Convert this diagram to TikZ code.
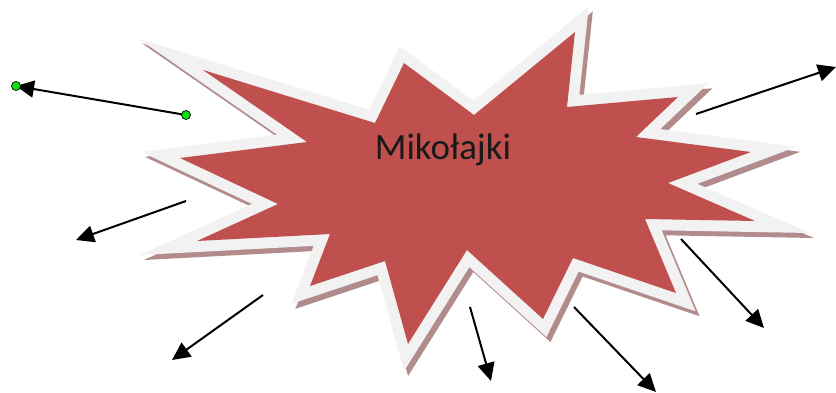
\documentclass[tikz,border=0pt]{standalone}
\usepackage{fontspec}
\setmainfont{Carlito}
\usetikzlibrary{arrows.meta}
\definecolor{starred}{HTML}{C0504D}
\definecolor{stargray}{HTML}{F2F2F2}
\definecolor{starshadow}{RGB}{178,140,140}
\definecolor{handlegreen}{HTML}{10E010}
\begin{document}
\begin{tikzpicture}[x=1pt,y=-1pt,
  arr/.style={line width=2pt, -{Triangle[length=18pt,width=17pt]}},
  handle/.style={circle, fill=handlegreen, draw=black, line width=0.7pt, inner sep=0pt, minimum size=9pt},
  starband/.style={line width=22pt, line join=miter, miter limit=10}]
\useasboundingbox (0,0) rectangle (836,392);
\def\mystarpath{(203,70) -- (375,123) -- (404,63) -- (474,115) -- (575,32) -- (567,107) -- (678,97) -- (636,137) -- (751,152) -- (668,183) -- (755,221) -- (645,219) -- (676,293) -- (573,258) -- (543,319) -- (467,250) -- (408,344) -- (385,261) -- (310,286) -- (330,234) -- (197,241) -- (278,204) -- (180,158) -- (307,142) -- cycle}
% shadow
\begin{scope}[shift={(4,5)}]
  \filldraw[starshadow, starband] \mystarpath;
\end{scope}
% light band
\draw[stargray, starband] \mystarpath;
% red body
\fill[starred] \mystarpath;
\node[font=\fontsize{37}{42}\selectfont, text=black!90] (title) at (443,150) {Mikołajki};
% arrows
\coordinate (a1s) at (186,115); \coordinate (a1e) at (16,86);
\coordinate (a2s) at (186,201); \coordinate (a2e) at (76,240);
\coordinate (a3s) at (263,295); \coordinate (a3e) at (172,360);
\coordinate (a4s) at (470,307); \coordinate (a4e) at (491,381);
\coordinate (a5s) at (574,307); \coordinate (a5e) at (656,392);
\coordinate (a6s) at (681,239); \coordinate (a6e) at (764,328);
\coordinate (a7s) at (696,114); \coordinate (a7e) at (836,67);
\draw[arr] (a1s) -- (a1e);
\draw[arr] (a2s) -- (a2e);
\draw[arr] (a3s) -- (a3e);
\draw[arr] (a4s) -- (a4e);
\draw[arr] (a5s) -- (a5e);
\draw[arr] (a6s) -- (a6e);
\draw[arr] (a7s) -- (a7e);
\node[handle] (h1) at (a1s) {};
\node[handle] (h2) at (a1e) {};
\end{tikzpicture}
\end{document}
